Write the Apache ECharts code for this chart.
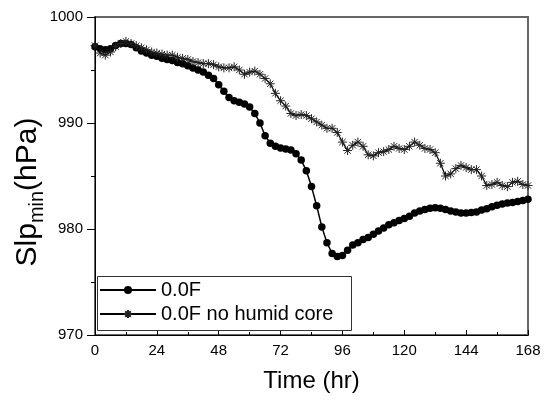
<!DOCTYPE html>
<html>
<head>
<meta charset="utf-8">
<script src="https://cdn.jsdelivr.net/npm/echarts@6/dist/echarts.min.js"></script>
<style>html,body{margin:0;padding:0;background:#fff;}#c{width:552px;height:403px;}</style>
</head>
<body>
<div id="c"></div>
<script>
// Time (hr), every 2 hours from 0 to 168
const hours = [];
for (let h = 0; h <= 168; h += 2) hours.push(h);

const xTicks = [0, 24, 48, 72, 96, 120, 144, 168];
const yTicks = [970, 980, 990, 1000];

const seriesNames = ['0.0F', '0.0F no humid core'];

const slp00F = [
  997.2, 997.0, 996.9, 997.0, 997.3, 997.5, 997.5, 997.4, 997.1, 996.8,
  996.6, 996.4, 996.3, 996.1, 996.0, 995.9, 995.7, 995.6, 995.4, 995.2,
  995.0, 994.8, 994.5, 994.2, 993.6, 993.0, 992.4, 992.1, 991.95, 991.8,
  991.5, 990.9, 990.0, 988.8, 988.1, 987.8, 987.65, 987.55, 987.45, 987.1,
  986.5, 985.5, 984.0, 982.2, 980.2, 978.7, 977.7, 977.4, 977.5, 978.0,
  978.5, 978.7, 979.0, 979.2, 979.5, 979.8, 980.1, 980.4, 980.6, 980.8,
  981.0, 981.2, 981.5, 981.7, 981.85, 981.95, 982.0, 981.95, 981.85, 981.7,
  981.6, 981.5, 981.5, 981.55, 981.6, 981.8, 981.9, 982.1, 982.25, 982.35,
  982.45, 982.5, 982.6, 982.7, 982.8
];

const slpNoHumid = [
  997.3, 996.6, 996.4, 996.7, 997.2, 997.5, 997.7, 997.5, 997.3, 997.1,
  996.9, 996.7, 996.6, 996.5, 996.4, 996.4, 996.2, 996.1, 996.0, 995.8,
  995.7, 995.6, 995.6, 995.5, 995.3, 995.2, 995.2, 995.3, 995.0, 994.6,
  994.8, 994.9, 994.6, 994.2, 993.7, 992.8, 992.1, 991.6, 990.9, 990.7,
  990.8, 990.7, 990.4, 990.1, 989.8, 989.5, 989.5, 989.1, 988.2, 987.4,
  987.9, 988.2, 987.8, 987.0, 986.9, 987.2, 987.3, 987.5, 987.8, 987.6,
  987.5, 987.8, 988.2, 987.9, 987.6, 987.5, 987.2, 986.2, 985.0, 985.2,
  985.7, 986.0, 985.8, 985.6, 985.6, 985.0, 984.1, 984.2, 984.4, 984.1,
  984.0, 984.4, 984.5, 984.2, 984.1
];

const font = '"Liberation Sans", Arial, sans-serif';
const star = 'path://M0,5L10,5M5,0L5,10M1.5,1.5L8.5,8.5M1.5,8.5L8.5,1.5';

const chart = echarts.init(document.getElementById('c'), null, {renderer: 'canvas'});
chart.setOption({
  animation: false,
  backgroundColor: '#fff',
  textStyle: {fontFamily: font, color: '#000'},
  grid: {left: 95, right: 24, top: 17, bottom: 68, show: true, borderColor: '#666', borderWidth: 2, backgroundColor: 'transparent'},
  legend: {
    left: 99, top: 280, orient: 'vertical',
    data: seriesNames,
    itemWidth: 56, itemHeight: 10, itemGap: 4,
    padding: 0,
    textStyle: {fontFamily: font, fontSize: 20, color: '#000'}
  },
  xAxis: {
    type: 'value', min: xTicks[0], max: xTicks[xTicks.length - 1], interval: 24,
    name: 'Time (hr)', nameLocation: 'middle', nameGap: 34,
    nameTextStyle: {fontFamily: font, fontSize: 24, color: '#000'},
    axisLine: {show: true, lineStyle: {color: '#000', width: 1}},
    axisTick: {show: true, inside: true, length: 5, lineStyle: {color: '#000'}},
    minorTick: {show: true, splitNumber: 2, length: 3, lineStyle: {color: '#000'}},
    axisLabel: {fontFamily: font, fontSize: 15, color: '#000', margin: 8},
    splitLine: {show: false}
  },
  yAxis: {
    type: 'value', min: yTicks[0], max: yTicks[yTicks.length - 1], interval: 10,
    axisLine: {show: true, lineStyle: {color: '#000', width: 1}},
    axisTick: {show: true, inside: false, length: 8, lineStyle: {color: '#000'}},
    minorTick: {show: true, splitNumber: 2, length: 4, lineStyle: {color: '#000'}},
    axisLabel: {fontFamily: font, fontSize: 15, color: '#000', margin: 12, formatter: v => String(v)},
    splitLine: {show: false}
  },
  graphic: [{
    type: 'rect', shape: {x: 97.5, y: 276.5, width: 254, height: 54},
    style: {fill: 'none', stroke: '#333', lineWidth: 1}, z: 10
  }, {
    type: 'text', x: 28, y: 192, rotation: Math.PI / 2,
    style: {
      text: '{a|Slp}{b|min}{a|(hPa)}',
      align: 'center', verticalAlign: 'middle',
      rich: {
        a: {fontFamily: font, fontSize: 30, lineHeight: 38, verticalAlign: 'middle', fill: '#000'},
        b: {fontFamily: font, fontSize: 20, lineHeight: 19, verticalAlign: 'bottom', fill: '#000'}
      }
    }
  }],
  series: [
    {
      name: seriesNames[0], type: 'line',
      data: hours.map((h, i) => [h, slp00F[i]]),
      symbol: 'circle', symbolSize: 7.5,
      itemStyle: {color: '#000'},
      lineStyle: {color: '#000', width: 1.5}
    },
    {
      name: seriesNames[1], type: 'line',
      data: hours.map((h, i) => [h, slpNoHumid[i]]),
      symbol: star, symbolSize: 9,
      itemStyle: {color: '#000', borderColor: '#222', borderWidth: 1},
      lineStyle: {color: '#000', width: 1.2}
    }
  ]
});
</script>
</body>
</html>
